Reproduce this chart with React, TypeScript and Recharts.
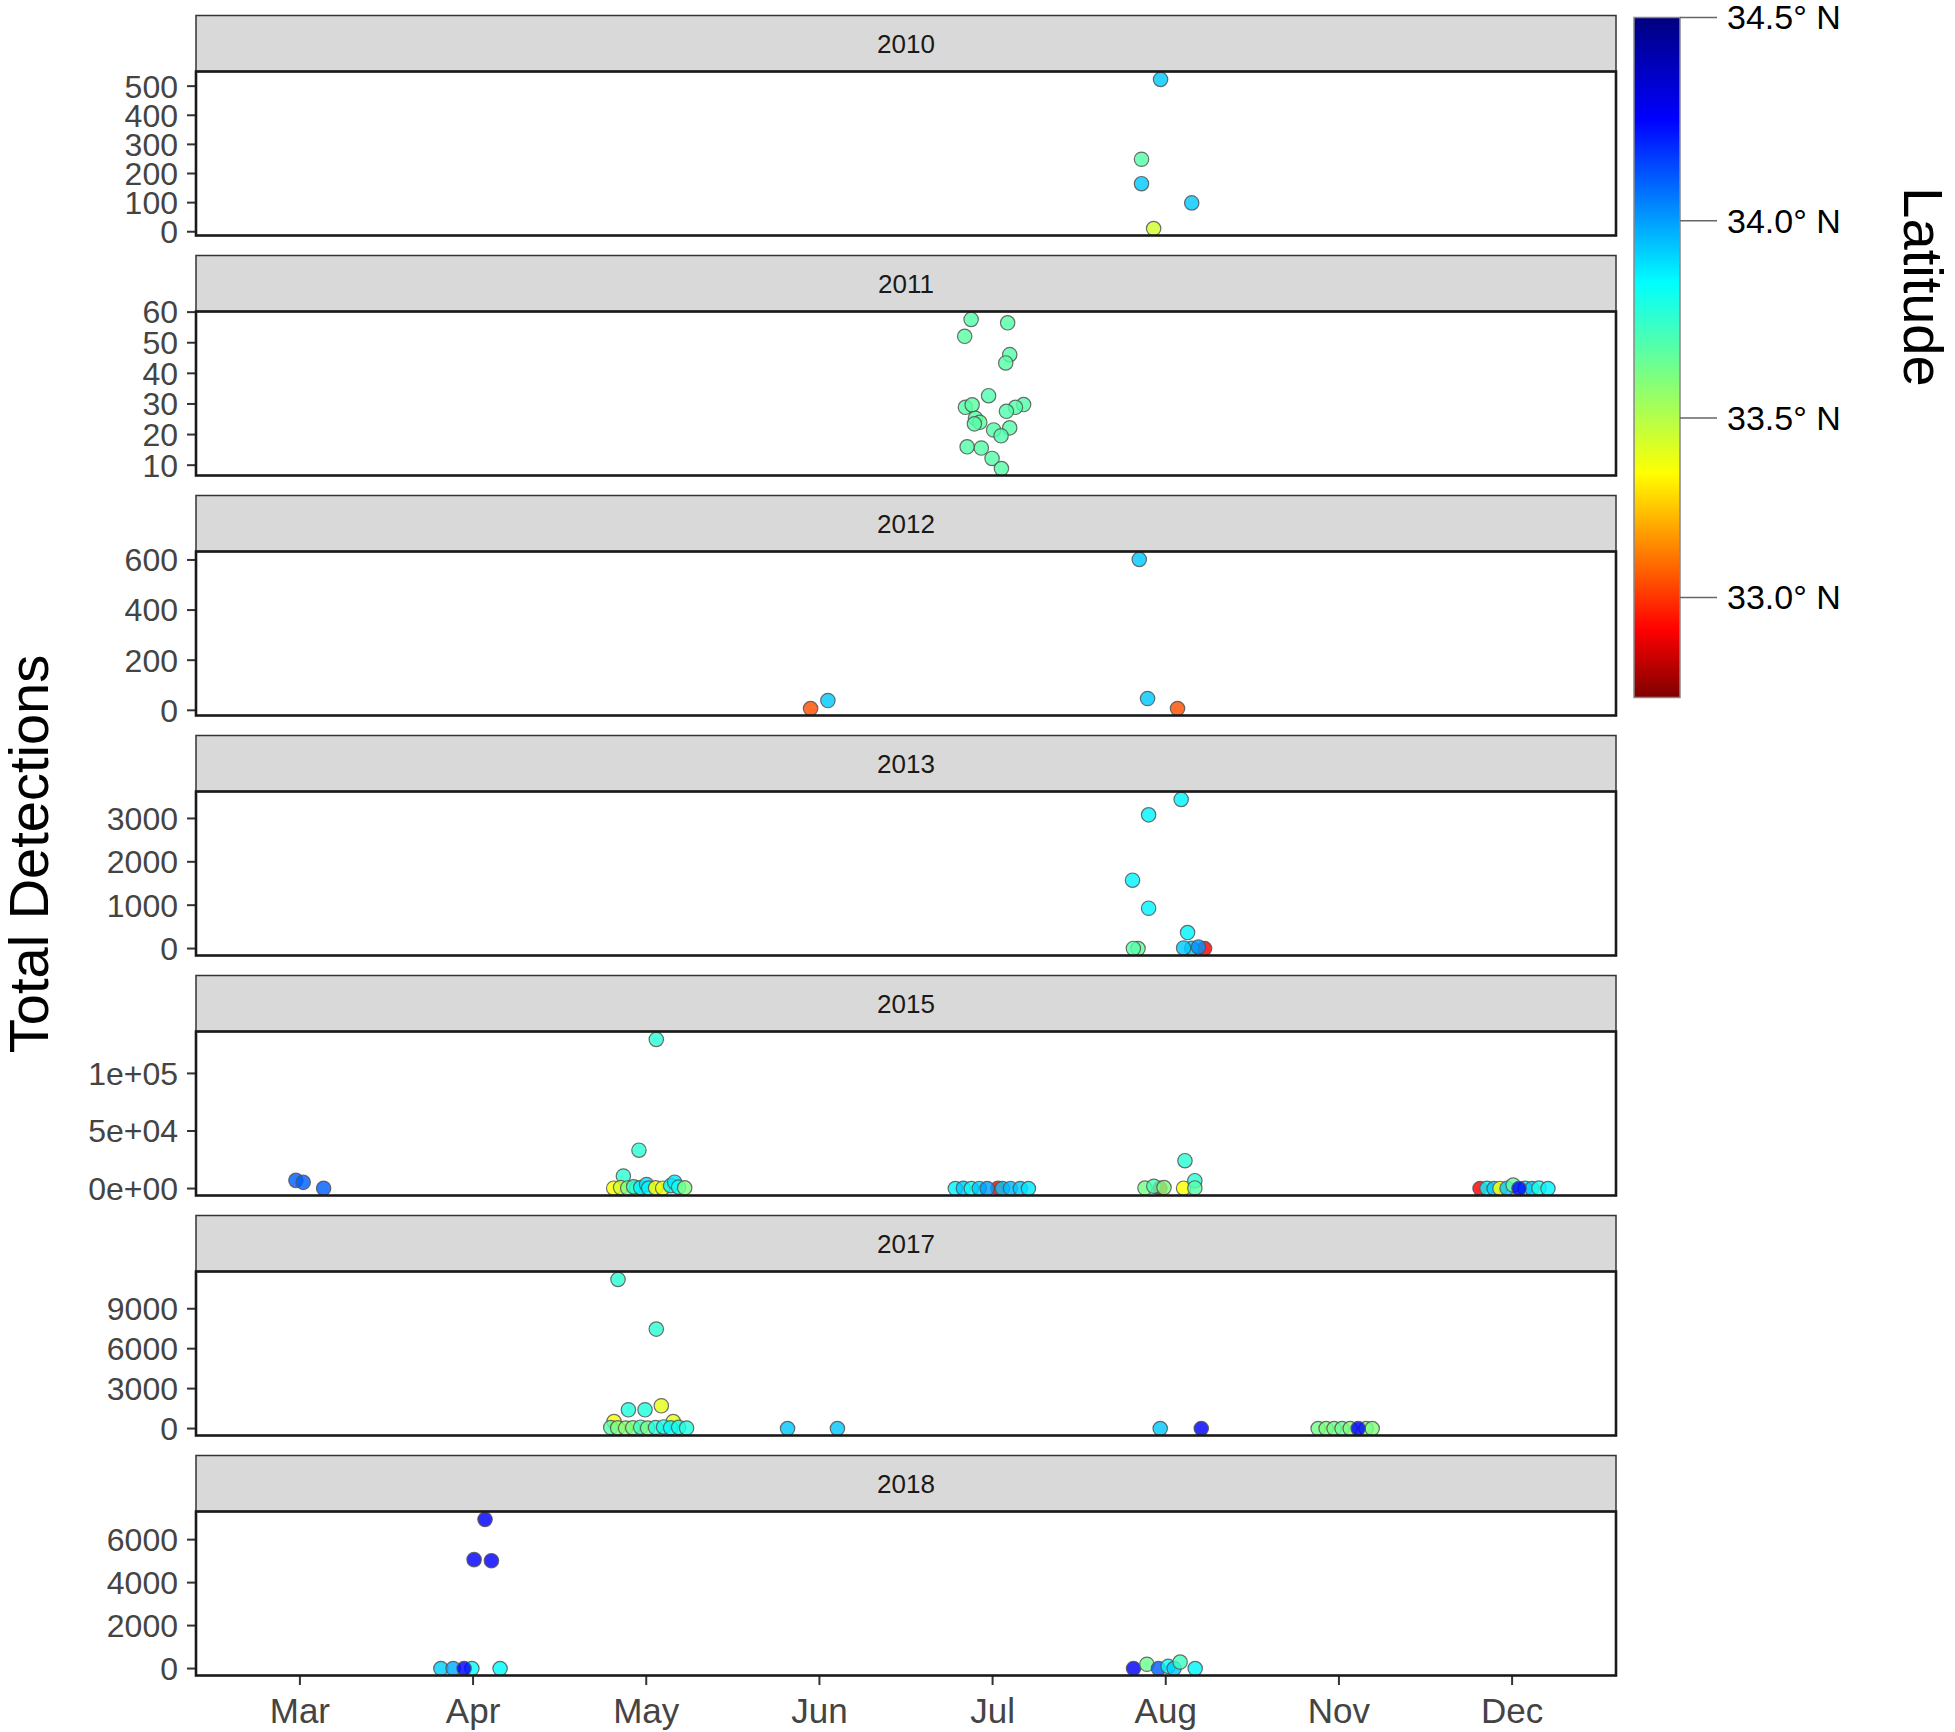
import React from "react";
import { ScatterChart, Scatter, XAxis, YAxis } from "recharts";

// month categories on the x axis (discrete, points are jittered around 1..8)
const MONTHS = ["Mar", "Apr", "May", "Jun", "Jul", "Aug", "Nov", "Dec"];
const MONTH_TICKS = [1, 2, 3, 4, 5, 6, 7, 8];

// [month position (with jitter), total detections, latitude]
type Pt = [number, number, number];

const d2010: Pt[] = [
  [5.97, 523, 33.93], [5.86, 249, 33.68], [5.86, 165, 33.93], [6.15, 99, 33.93], [5.93, 11, 33.44],
];

const d2011: Pt[] = [
  [4.876, 57.6, 33.68], [5.087, 56.5, 33.68], [4.839, 52.1, 33.67], [5.099, 46.1, 33.68],
  [5.076, 43.4, 33.68], [4.977, 32.7, 33.69], [4.843, 28.9, 33.68], [4.882, 29.7, 33.67],
  [5.179, 29.8, 33.68], [5.132, 28.9, 33.68], [5.08, 27.6, 33.69], [4.901, 25.3, 33.68],
  [4.926, 24.0, 33.66], [4.895, 23.5, 33.68], [5.006, 21.5, 33.68], [5.099, 22.2, 33.68],
  [5.049, 19.6, 33.69], [4.853, 16.0, 33.68], [4.935, 15.6, 33.68], [4.997, 12.2, 33.68],
  [5.051, 8.9, 33.68],
];

const d2012: Pt[] = [
  [3.949, 7, 33.05], [4.049, 39, 33.93], [5.847, 602, 33.93], [5.895, 47, 33.93], [6.068, 7, 33.05],
];

const d2013: Pt[] = [
  [5.84, 0, 33.66], [5.813, 2, 33.68], [6.224, 0, 32.91], [6.089, 3438, 33.86], [5.901, 3083, 33.86],
  [5.808, 1576, 33.86], [5.901, 930, 33.86], [6.126, 369, 33.86], [6.15, 5, 33.93],
  [6.103, 14, 33.93], [6.189, 37, 34.02],
];

const d2015: Pt[] = [
  [0.977, 7100, 34.1], [1.019, 5400, 34.1], [1.137, 200, 34.1],
  [3.058, 129500, 33.76], [2.958, 33300, 33.76], [2.868, 10900, 33.76],
  [2.812, 300, 33.35], [2.852, 900, 33.44], [2.893, 500, 33.6], [2.945, 200, 33.66],
  [2.927, 1500, 33.76], [2.968, 800, 33.86], [3.002, 3500, 33.88], [3.014, 400, 33.86],
  [3.054, 600, 33.35], [3.095, 300, 33.4], [3.141, 2500, 33.86], [3.164, 5500, 33.88],
  [3.187, 1200, 33.82], [3.222, 600, 33.6],
  [5.031, 300, 32.91], [4.785, 0, 33.86], [4.831, 200, 33.93], [4.877, 0, 33.82],
  [4.923, 100, 33.93], [4.969, 0, 34.0], [5.057, 0, 33.93], [5.103, 100, 33.96],
  [5.16, 0, 33.93], [5.207, 0, 33.88],
  [5.967, 200, 32.91], [5.88, 400, 33.62], [5.931, 2000, 33.7], [5.99, 800, 33.6],
  [6.103, 300, 33.35], [6.111, 24200, 33.76], [6.168, 6800, 33.76], [6.168, 500, 33.68],
  [7.815, 0, 32.91], [7.855, 200, 33.86], [7.896, 0, 33.93], [7.93, 100, 33.35],
  [7.971, 300, 33.93], [8.006, 3000, 33.66], [8.075, 200, 33.86], [8.115, 0, 33.93],
  [8.155, 400, 33.8], [8.207, 0, 33.86], [8.04, 0, 34.25],
];

const d2017: Pt[] = [
  [2.837, 11200, 33.76], [3.058, 7470, 33.76], [2.897, 1410, 33.78], [2.993, 1410, 33.78],
  [3.087, 1710, 33.4], [2.814, 520, 33.35], [3.156, 520, 33.4],
  [2.795, 80, 33.68], [2.835, 50, 33.6], [2.881, 30, 33.58], [2.922, 60, 33.6],
  [2.968, 100, 33.73], [3.008, 40, 33.62], [3.054, 80, 33.78], [3.1, 120, 33.8],
  [3.141, 60, 33.84], [3.187, 90, 33.82], [3.233, 40, 33.78],
  [3.816, 0, 33.93], [4.104, 0, 33.93],
  [5.968, 0, 33.93], [6.205, 0, 34.25],
  [6.88, 0, 33.62], [6.926, 0, 33.6], [6.972, 0, 33.62], [7.018, 0, 33.64],
  [7.065, 0, 33.6], [7.157, 0, 33.62], [7.192, 0, 33.6], [7.111, 0, 34.25],
];

const d2018: Pt[] = [
  [2.069, 6940, 34.25], [2.006, 5070, 34.25], [2.106, 5020, 34.25],
  [1.814, 0, 33.92], [1.885, 0, 33.98], [1.993, 0, 33.84], [1.948, 0, 34.25], [2.156, 0, 33.85],
  [5.814, 0, 34.25], [5.891, 200, 33.64], [5.958, 0, 34.1], [6.014, 100, 33.84],
  [6.048, 0, 33.93], [6.083, 300, 33.72], [6.17, 0, 33.86],
];

const YEARS = ["2010", "2011", "2012", "2013", "2015", "2017", "2018"];
const SERIES = [d2010, d2011, d2012, d2013, d2015, d2017, d2018];
const Y_TICKS = [
  [0, 100, 200, 300, 400, 500],
  [10, 20, 30, 40, 50, 60],
  [0, 200, 400, 600],
  [0, 1000, 2000, 3000],
  [0, 50000, 100000],
  [0, 3000, 6000, 9000],
  [0, 2000, 4000, 6000],
];

const LAT_BREAKS = [34.5, 34.0, 33.5, 33.0];

// layout
const PLOT_LEFT = 196;
const PLOT_W = 1420;
const PLOT_H = 164;
const FIRST_TOP = 71.5;
const STEP = 240;
const STRIP_H = 56;
const PAD = 22;
const BAR = { x: 1634, y: 17.5, w: 46, h: 680 };

// latitude -> position along the colour bar (0 = top)
const LAT_POS: [number, number][] = [[34.5, 0], [34.0, 0.299], [33.5, 0.589], [33.0, 0.853], [32.72, 1]];
const JET: [number, number[]][] = [
  [0, [0, 0, 127]], [0.15, [0, 0, 255]], [0.39, [0, 255, 255]], [0.53, [127, 255, 127]],
  [0.67, [255, 255, 0]], [0.9, [255, 0, 0]], [1, [127, 0, 0]],
];

function latFrac(lat: number) {
  if (lat >= LAT_POS[0][0]) return 0;
  for (let i = 1; i < LAT_POS.length; i++) {
    const [l0, f0] = LAT_POS[i - 1];
    const [l1, f1] = LAT_POS[i];
    if (lat >= l1) return f0 + ((l0 - lat) / (l0 - l1)) * (f1 - f0);
  }
  return 1;
}

function jet(f: number) {
  for (let i = 1; i < JET.length; i++) {
    const [p0, c0] = JET[i - 1];
    const [p1, c1] = JET[i];
    if (f <= p1) {
      const t = (f - p0) / (p1 - p0);
      const c = c0.map((v, k) => Math.round(v + t * (c1[k] - v)));
      return `rgb(${c[0]},${c[1]},${c[2]})`;
    }
  }
  return "rgb(127,0,0)";
}

function expand(vals: number[]): [number, number] {
  const lo = Math.min(...vals);
  const hi = Math.max(...vals);
  const r = hi - lo;
  return [lo - 0.05 * r, hi + 0.05 * r];
}

function sci(v: number) {
  if (v === 0) return "0e+00";
  const [m, e] = v.toExponential().split("e");
  const n = Math.abs(+e);
  return `${m}e${+e < 0 ? "-" : "+"}${n < 10 ? "0" + n : n}`;
}

const Dot = (p: any) => (
  <circle
    cx={p.cx}
    cy={p.cy}
    r={7.2}
    fill={jet(latFrac(p.payload.lat))}
    fillOpacity={0.82}
    stroke="#555"
    strokeOpacity={0.85}
    strokeWidth={1.2}
  />
);

const FONT = "'Liberation Sans', Arial, sans-serif";

function Panel({ idx }: { idx: number }) {
  const last = idx === YEARS.length - 1;
  const pts = SERIES[idx].map(([x, y, lat]) => ({ x, y, lat }));
  const dom = expand(pts.map((p) => p.y));
  const top = FIRST_TOP + idx * STEP - PAD;
  const h = PAD + PLOT_H + (last ? 64 : PAD);
  const fmt = YEARS[idx] === "2015" ? sci : (v: number) => String(v);
  return (
    <div style={{ position: "absolute", left: 0, top, width: 1620, height: h }}>
      <ScatterChart width={1620} height={h} margin={{ top: PAD, right: 4, bottom: last ? 0 : PAD, left: 0 }}>
        <XAxis
          type="number"
          dataKey="x"
          domain={[0.4, 8.6]}
          ticks={MONTH_TICKS}
          interval={0}
          tickFormatter={(v: number) => MONTHS[v - 1]}
          hide={!last}
          height={64}
          tickSize={9}
          tickMargin={13}
          axisLine={false}
          tickLine={{ stroke: "#333", strokeWidth: 2 }}
          tick={{ fill: "#444", fontSize: 35, fontFamily: FONT }}
          allowDataOverflow
        />
        <YAxis
          type="number"
          dataKey="y"
          domain={dom}
          ticks={Y_TICKS[idx]}
          interval={0}
          tickFormatter={fmt}
          width={PLOT_LEFT}
          tickSize={9}
          tickMargin={9}
          axisLine={false}
          tickLine={{ stroke: "#333", strokeWidth: 2 }}
          tick={{ fill: "#444", fontSize: 32, fontFamily: FONT }}
          allowDataOverflow
        />
        <Scatter data={pts} shape={Dot} isAnimationActive={false} />
      </ScatterChart>
    </div>
  );
}

export default function App() {
  return (
    <div style={{ position: "absolute", left: 0, top: 0, width: 1955, height: 1732, background: "#fff", fontFamily: FONT }}>
      {YEARS.map((y, i) => <Panel key={y} idx={i} />)}
      <svg width={1955} height={1732} style={{ position: "absolute", left: 0, top: 0, pointerEvents: "none" }}>
        <defs>
          <linearGradient id="jetbar" x1="0" y1="0" x2="0" y2="1">
            {JET.map(([p, c]) => (
              <stop key={p} offset={p} stopColor={`rgb(${c[0]},${c[1]},${c[2]})`} />
            ))}
          </linearGradient>
        </defs>
        {YEARS.map((y, i) => {
          const top = FIRST_TOP + i * STEP;
          return (
            <g key={y}>
              <rect x={PLOT_LEFT} y={top - STRIP_H} width={PLOT_W} height={STRIP_H} fill="#D9D9D9" stroke="#333" strokeWidth={1.5} />
              <text x={PLOT_LEFT + PLOT_W / 2} y={top - STRIP_H / 2} dy="0.35em" textAnchor="middle" fontSize={26} fill="#1A1A1A" fontFamily={FONT}>
                {y}
              </text>
              <rect x={PLOT_LEFT} y={top} width={PLOT_W} height={PLOT_H} fill="none" stroke="#1A1A1A" strokeWidth={2.6} />
            </g>
          );
        })}
        <text x={28} y={854} dy="0.35em" textAnchor="middle" fontSize={56} fill="#000" fontFamily={FONT} transform="rotate(-90 28 854)">
          Total Detections
        </text>
        <rect x={BAR.x} y={BAR.y} width={BAR.w} height={BAR.h} fill="url(#jetbar)" stroke="#888" strokeWidth={1.5} />
        {LAT_BREAKS.map((l) => {
          const yy = BAR.y + latFrac(l) * BAR.h;
          return (
            <g key={l}>
              <line x1={BAR.x + BAR.w} x2={1717} y1={yy} y2={yy} stroke="#666" strokeWidth={1.5} />
              <text x={1727} y={yy} dy="0.35em" fontSize={34} fill="#000" fontFamily={FONT}>
                {`${l.toFixed(1)}° N`}
              </text>
            </g>
          );
        })}
        <text x={1924} y={287} dy="0.35em" textAnchor="middle" fontSize={56} fill="#000" fontFamily={FONT} transform="rotate(90 1924 287)">
          Latitude
        </text>
      </svg>
    </div>
  );
}
